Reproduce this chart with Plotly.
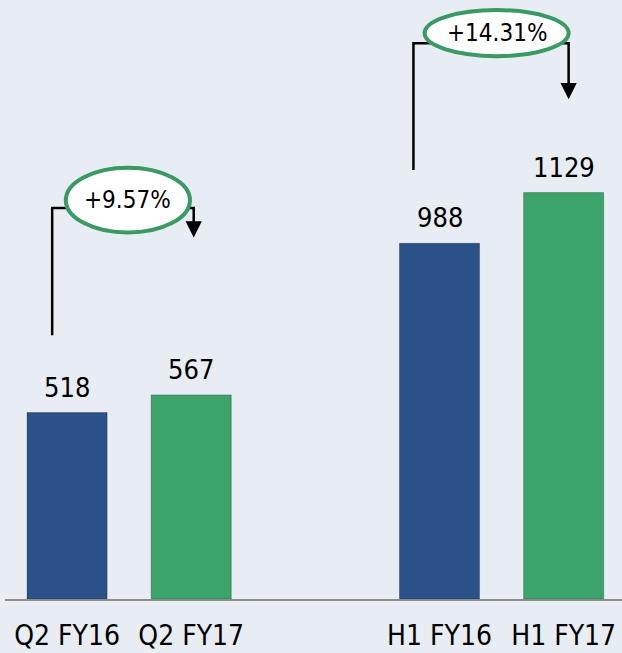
import plotly.graph_objects as go

categories = ["Q2 FY16", "Q2 FY17", " ", "H1 FY16", "H1 FY17"]
values = [518, 567, None, 988, 1129]
bar_colors = ["#2b5189", "#3aa46b", "#ffffff", "#2b5189", "#3aa46b"]
growth_labels = ["+9.57%", "+14.31%"]
growth_pairs = [(0, 1), (3, 4)]

FONT = "DejaVu Sans Condensed, DejaVu Sans, sans-serif"

fig = go.Figure()
fig.add_trace(go.Bar(
    x=categories, y=values,
    marker=dict(color=bar_colors, line=dict(color="rgba(0,0,0,0.25)", width=1)),
    hoverinfo="skip",
))

annotations = []
shapes = []
for c, v in zip(categories, values):
    if v is None:
        continue
    annotations.append(dict(x=c, y=v, text=str(v), showarrow=False,
                            yanchor="bottom", yshift=8,
                            font=dict(size=27, color="#000", family=FONT)))

# bracket geometry (offsets relative to bars, in axis units)
bracket_cfg = [
    dict(lx=-0.12, ly_bot=733, hy=1086, rx=0.02, tip=1004, ex=0.49, ey=1108, ew=0.50, eh=90),
    dict(lx=-0.21, ly_bot=1192, hy=1544, rx=0.04, tip=1388, ex=0.46, ey=1572, ew=0.58, eh=64),
]
for (i, j), lab, cfg in zip(growth_pairs, growth_labels, bracket_cfg):
    xl = i + cfg["lx"]
    xr = j + cfg["rx"]
    shapes.append(dict(type="path", xref="x", yref="y",
                       path=f"M {xl} {cfg['ly_bot']} L {xl} {cfg['hy']} L {xr} {cfg['hy']} L {xr} {cfg['tip'] + 30}",
                       line=dict(color="#000", width=2.5)))
    annotations.append(dict(x=xr, y=cfg["tip"], ax=xr, ay=cfg["tip"] + 40,
                            xref="x", yref="y", axref="x", ayref="y",
                            text="", showarrow=True, arrowhead=2, arrowsize=1.3,
                            arrowwidth=2.5, arrowcolor="#000"))
    ecx = i + cfg["ex"]
    shapes.append(dict(type="circle", xref="x", yref="y",
                       x0=ecx - cfg["ew"], x1=ecx + cfg["ew"],
                       y0=cfg["ey"] - cfg["eh"], y1=cfg["ey"] + cfg["eh"],
                       fillcolor="white", line=dict(color="#3a9a64", width=4)))
    annotations.append(dict(x=ecx, y=cfg["ey"], text=lab, showarrow=False,
                            font=dict(size=24, color="#000", family=FONT)))

fig.update_layout(
    width=622, height=653,
    margin=dict(l=5, r=0, t=0, b=54),
    paper_bgcolor="#e8ecf3", plot_bgcolor="#e8ecf3",
    bargap=0.355, showlegend=False,
    xaxis=dict(type="category", range=[-0.5, 4.47], showgrid=False, zeroline=False,
               showline=True, linecolor="#8c8c8c", linewidth=2,
               ticks="", ticklabelstandoff=10,
               tickfont=dict(size=28, color="#000", family=FONT)),
    yaxis=dict(range=[0, 1664], visible=False, showgrid=False, zeroline=False),
    shapes=shapes, annotations=annotations,
)

fig.write_html("out.html", config={"displayModeBar": False},
               post_script="document.body.style.margin='0';document.body.style.overflow='hidden';document.body.style.background='#e8ecf3';")
